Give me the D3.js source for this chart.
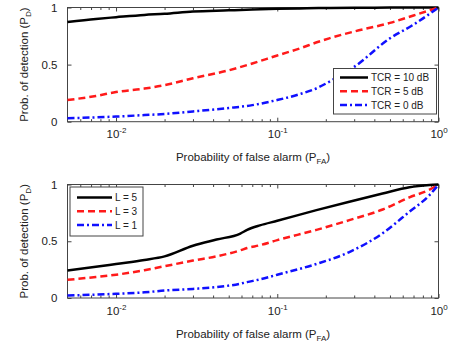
<!DOCTYPE html>
<html lang="en">
<head>
    <meta charset="UTF-8">
    <title>ROC curves</title>
    <script src="https://cdn.jsdelivr.net/npm/d3@7/dist/d3.min.js"></script>
    <style>
        body { margin: 0; background: #fff; }
        svg text { font-family: "Liberation Sans", Arial, Helvetica, sans-serif; fill: #222; }
    </style>
</head>
<body>
<svg id="chart" width="451" height="347"></svg>
<script>
    // top panel: TCR
    var pfaTop = [0.005, 0.0075, 0.01, 0.015, 0.02, 0.03, 0.05, 0.07, 0.1, 0.137, 0.18, 0.21, 0.3, 0.5, 0.7, 1];
    var pdTcr10 = [0.874, 0.90, 0.915, 0.935, 0.945, 0.965, 0.975, 0.982, 0.988, 0.992, 0.995, 0.996, 0.998, 0.999, 1, 1];
    var pdTcr5 = [0.19, 0.225, 0.26, 0.29, 0.32, 0.38, 0.45, 0.51, 0.58, 0.64, 0.70, 0.73, 0.79, 0.865, 0.93, 1];
    var pdTcr0 = [0.03, 0.038, 0.045, 0.058, 0.068, 0.09, 0.12, 0.145, 0.19, 0.24, 0.30, 0.35, 0.48, 0.73, 0.85, 1];
    var legendTop = ["TCR = 10 dB", "TCR = 5 dB", "TCR = 0 dB"];

    // bottom panel: L
    var pfaBot = [0.005, 0.0075, 0.01, 0.015, 0.02, 0.03, 0.042, 0.059, 0.065, 0.078, 0.1, 0.175, 0.28, 0.45, 0.66, 0.88, 1];
    var pdL5 = [0.243, 0.275, 0.30, 0.335, 0.367, 0.46, 0.515, 0.568, 0.60, 0.64, 0.68, 0.774, 0.848, 0.92, 0.975, 0.995, 1];
    var pdL3 = [0.16, 0.185, 0.205, 0.245, 0.28, 0.33, 0.367, 0.42, 0.44, 0.465, 0.51, 0.60, 0.686, 0.78, 0.887, 0.955, 1];
    var pdL1 = [0.022, 0.03, 0.037, 0.05, 0.066, 0.08, 0.096, 0.126, 0.14, 0.164, 0.205, 0.30, 0.405, 0.57, 0.76, 0.907, 1];
    var legendBot = ["L = 5", "L = 3", "L = 1"];

    var xMajor = [0.01, 0.1, 1];
    var xExp = ["-2", "-1", "0"];
    var yTicks = [0, 0.5, 1];
    var yLabels = ["0", "0.5", "1"];

    var styles = [
        {color: "#000", dash: null, width: 2.5},
        {color: "#ff1a1a", dash: "7,4", width: 2.5},
        {color: "#1010ff", dash: "7,3,2,3", width: 2.5}
    ];

    var svg = d3.select("#chart");

    function minorTicks() {
        var m = [];
        [0.001, 0.01, 0.1].forEach(function (d) {
            for (var k = 2; k <= 9; k++) {
                var v = d * k;
                if (v > 0.005 && v < 1) m.push(v);
            }
        });
        return m;
    }

    function panel(top, bottom, pfa, series, names, leg) {
        var x = d3.scaleLog().domain([0.005, 1]).range([67.5, 438.5]);
        var y = d3.scaleLinear().domain([0, 1]).range([bottom, top]);
        var g = svg.append("g");
        var noLabel = function () { return ""; };

        // ticks, inward like matlab
        var axB = g.append("g").attr("transform", "translate(0," + bottom + ")")
            .call(d3.axisBottom(x).tickValues(xMajor).tickSizeInner(-4).tickSizeOuter(0).tickPadding(8));
        g.append("g").attr("transform", "translate(0," + bottom + ")")
            .call(d3.axisBottom(x).tickValues(minorTicks()).tickSizeInner(-2.5).tickSizeOuter(0).tickFormat(noLabel));
        g.append("g").attr("transform", "translate(0," + top + ")")
            .call(d3.axisTop(x).tickValues(xMajor).tickSizeInner(-4).tickSizeOuter(0).tickFormat(noLabel));
        g.append("g").attr("transform", "translate(0," + top + ")")
            .call(d3.axisTop(x).tickValues(minorTicks()).tickSizeInner(-2.5).tickSizeOuter(0).tickFormat(noLabel));
        var axL = g.append("g").attr("transform", "translate(67.5,0)")
            .call(d3.axisLeft(y).tickValues(yTicks).tickSizeInner(-4).tickSizeOuter(0).tickPadding(10)
                .tickFormat(function (d, i) { return yLabels[i]; }));
        g.append("g").attr("transform", "translate(438.5,0)")
            .call(d3.axisRight(y).tickValues(yTicks).tickSizeInner(-4).tickSizeOuter(0).tickFormat(noLabel));

        g.selectAll(".domain").remove();
        g.selectAll(".tick line").attr("stroke", "#444");
        axL.selectAll(".tick text").attr("font-size", 11.5).attr("fill", "#222").attr("font-family", null);

        // log labels 10^n
        axB.selectAll(".tick text").each(function (d, i) {
            var t = d3.select(this).text(null).attr("font-size", 11.5).attr("fill", "#222")
                .attr("font-family", null).attr("dy", null).attr("y", 16.8);
            t.append("tspan").text("10");
            t.append("tspan").attr("font-size", 8).attr("dy", -5).text(xExp[i]);
        });

        // box
        g.append("rect").attr("x", 67.5).attr("y", top).attr("width", 371).attr("height", bottom - top)
            .attr("fill", "none").attr("stroke", "#444").attr("stroke-width", 1);

        var line = d3.line()
            .x(function (d) { return x(d[0]); })
            .y(function (d) { return y(d[1]); })
            .curve(d3.curveMonotoneX);

        series.forEach(function (s, i) {
            g.append("path")
                .datum(pfa.map(function (p, j) { return [p, s[j]]; }))
                .attr("d", line)
                .attr("fill", "none")
                .attr("stroke", styles[i].color)
                .attr("stroke-width", styles[i].width)
                .attr("stroke-dasharray", styles[i].dash);
        });

        // legend
        var lg = g.append("g");
        lg.append("rect").attr("x", leg.x).attr("y", leg.y).attr("width", leg.w).attr("height", leg.h)
            .attr("fill", "#fff").attr("stroke", "#444");
        names.forEach(function (n, i) {
            var ry = leg.y + leg.r0 + i * leg.dr;
            lg.append("line").attr("x1", leg.x + leg.l0).attr("x2", leg.x + leg.l1)
                .attr("y1", ry).attr("y2", ry)
                .attr("stroke", styles[i].color).attr("stroke-width", styles[i].width)
                .attr("stroke-dasharray", styles[i].dash);
            lg.append("text").attr("x", leg.x + leg.l1 + 3).attr("y", ry + 3.5)
                .attr("font-size", 10).text(n);
        });

        // axis labels
        var xl = g.append("text").attr("x", 253).attr("y", bottom + 39.5)
            .attr("text-anchor", "middle").attr("font-size", 11.5);
        xl.append("tspan").text("Probability of false alarm (P");
        xl.append("tspan").attr("font-size", 8).attr("dy", 3).text("FA");
        xl.append("tspan").attr("dy", -3).text(")");

        var yl = g.append("text")
            .attr("transform", "translate(28," + ((top + bottom) / 2) + ") rotate(-90)")
            .attr("text-anchor", "middle").attr("font-size", 11.5);
        yl.append("tspan").text("Prob. of detection (P");
        yl.append("tspan").attr("font-size", 8).attr("dy", 3).text("D");
        yl.append("tspan").attr("dy", -3).text(")");
    }

    panel(7.5, 121.7, pfaTop, [pdTcr10, pdTcr5, pdTcr0], legendTop,
        {x: 333.5, y: 68.5, w: 103, h: 45.5, r0: 9, dr: 13.8, l0: 6.5, l1: 34.5});
    panel(184.5, 298, pfaBot, [pdL5, pdL3, pdL1], legendBot,
        {x: 70, y: 187, w: 73, h: 49, r0: 10.5, dr: 13.8, l0: 7, l1: 42});
</script>
</body>
</html>
